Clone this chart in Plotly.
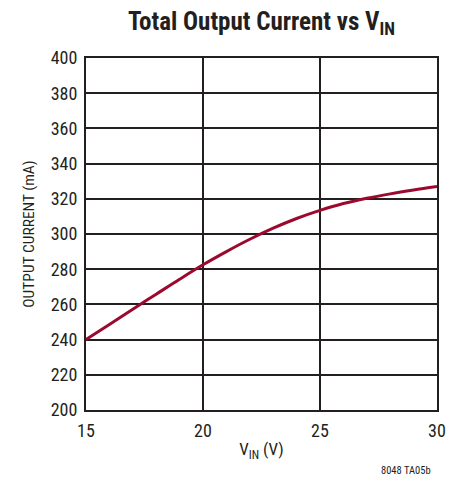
import plotly.graph_objects as go

# supply voltage (V) and total output current (mA)
vin = [15, 16, 17, 18, 19, 20, 21, 22, 23, 24, 25, 26, 27, 28, 29, 30]
current_ma = [240, 248.6, 257.3, 265.8, 274.3, 282.5, 290, 297, 303.3, 308.8,
              313.4, 317.3, 320.3, 322.8, 325, 327]

x_ticks = [15, 20, 25, 30]
y_ticks = list(range(200, 401, 20))

FONT = "Liberation Sans Narrow, Roboto Condensed, Arial Narrow, sans-serif"
INK = "#231f20"

fig = go.Figure()
fig.add_trace(
    go.Scatter(
        x=vin,
        y=current_ma,
        mode="lines",
        line=dict(color="#9b0a2e", width=3, shape="spline"),
        showlegend=False,
    )
)

axis_common = dict(
    showgrid=True,
    gridcolor=INK,
    gridwidth=1.5,
    showline=True,
    linecolor=INK,
    linewidth=2,
    mirror=True,
    zeroline=False,
    ticks="outside",
    ticklen=3,
    tickcolor="rgba(0,0,0,0)",
    tickfont=dict(size=18),
)

fig.update_layout(
    width=457,
    height=479,
    margin=dict(l=86, r=20, t=58, b=69),
    paper_bgcolor="white",
    plot_bgcolor="white",
    font=dict(family=FONT, color=INK, size=16),
    title=dict(
        text="<b>Total Output Current vs V<sub>IN</sub></b>",
        x=(86 + 437) / 2 / 457,
        xanchor="center",
        y=0.956,
        yanchor="middle",
        font=dict(size=25, family=FONT),
    ),
    xaxis=dict(
        range=[15, 30],
        tickvals=x_ticks,
        title=dict(text="V<sub>IN</sub> (V)", font=dict(size=17), standoff=4),
        **axis_common,
    ),
    yaxis=dict(
        range=[200, 400],
        tickvals=y_ticks,
        title=dict(text="OUTPUT CURRENT (mA)", font=dict(size=15.5), standoff=12),
        **axis_common,
    ),
    annotations=[
        dict(
            text="8048 TA05b",
            xref="paper",
            yref="paper",
            x=0.99,
            y=-0.173,
            xanchor="right",
            yanchor="middle",
            showarrow=False,
            font=dict(size=10.5, family=FONT),
        )
    ],
)

fig.write_html(
    "out.html",
    config={"displayModeBar": False},
    post_script="document.body.style.margin='0';",
)
